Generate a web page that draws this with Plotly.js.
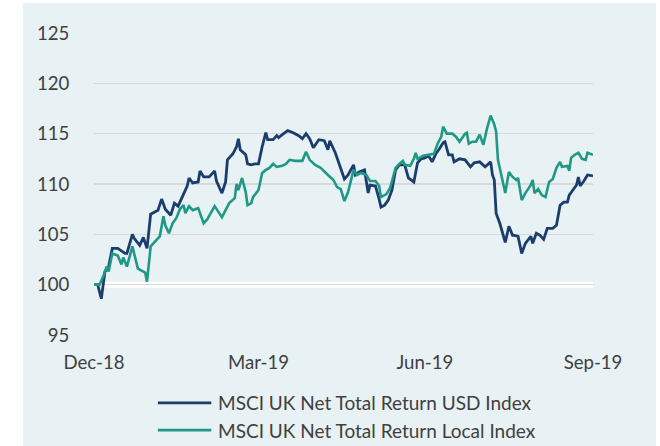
<!DOCTYPE html>
<html>
<head>
<meta charset="utf-8">
<script src="https://cdn.plot.ly/plotly-3.0.1.min.js"></script>
<style>
html,body{margin:0;padding:0;background:#ffffff;}
#chart{position:absolute;left:23px;top:3px;width:633px;height:443px;}
</style>
</head>
<body>
<div id="chart"></div>
<script>
var usdDates = ["2018-12-31","2019-01-02","2019-01-04","2019-01-06","2019-01-08","2019-01-10","2019-01-13","2019-01-17","2019-01-18","2019-01-21","2019-01-22","2019-01-25","2019-01-27","2019-01-29","2019-01-31","2019-02-04","2019-02-06","2019-02-08","2019-02-11","2019-02-13","2019-02-15","2019-02-18","2019-02-20","2019-02-21","2019-02-23","2019-02-26","2019-02-27","2019-03-01","2019-03-04","2019-03-07","2019-03-08","2019-03-11","2019-03-13","2019-03-14","2019-03-17","2019-03-19","2019-03-20","2019-03-21","2019-03-24","2019-03-25","2019-03-27","2019-03-29","2019-03-31","2019-04-02","2019-04-04","2019-04-05","2019-04-08","2019-04-10","2019-04-11","2019-04-13","2019-04-16","2019-04-19","2019-04-22","2019-04-24","2019-04-26","2019-04-28","2019-04-30","2019-05-03","2019-05-06","2019-05-08","2019-05-09","2019-05-12","2019-05-15","2019-05-17","2019-05-19","2019-05-22","2019-05-23","2019-05-25","2019-05-28","2019-05-29","2019-05-30","2019-05-31","2019-06-03","2019-06-05","2019-06-06","2019-06-08","2019-06-10","2019-06-12","2019-06-14","2019-06-16","2019-06-19","2019-06-21","2019-06-24","2019-06-26","2019-06-28","2019-06-30","2019-07-02","2019-07-04","2019-07-06","2019-07-08","2019-07-10","2019-07-11","2019-07-13","2019-07-15","2019-07-16","2019-07-19","2019-07-22","2019-07-25","2019-07-27","2019-07-30","2019-08-02","2019-08-05","2019-08-06","2019-08-07","2019-08-08","2019-08-10","2019-08-12","2019-08-13","2019-08-15","2019-08-17","2019-08-18","2019-08-20","2019-08-22","2019-08-24","2019-08-27","2019-08-28","2019-08-30","2019-09-01","2019-09-03","2019-09-05","2019-09-08","2019-09-10","2019-09-12","2019-09-14","2019-09-16","2019-09-17","2019-09-19","2019-09-21","2019-09-22","2019-09-23","2019-09-25","2019-09-27","2019-09-30"];
var usdValues = [100.0,100.0,98.6,101.3,101.8,103.6,103.6,103.1,103.1,105.0,104.6,103.9,104.7,103.6,107.0,107.4,108.5,107.5,106.9,108.1,107.8,108.9,109.8,110.6,110.1,110.2,111.3,110.7,110.7,111.3,110.3,109.1,110.2,112.4,113.0,113.7,114.5,113.4,112.9,112.0,111.9,112.0,112.0,113.7,115.1,114.4,114.4,114.8,114.6,114.9,115.3,115.1,114.8,114.5,115.0,114.5,113.6,114.4,114.3,113.4,114.3,113.1,111.6,110.5,110.9,111.9,110.9,111.2,111.4,110.4,109.1,109.9,109.8,108.5,107.7,107.9,108.4,109.4,111.4,111.9,111.9,110.6,110.2,112.1,112.5,112.6,112.8,112.2,113.0,113.5,114.1,114.2,112.9,112.9,112.2,112.5,112.4,111.7,112.1,112.2,111.7,112.2,110.9,110.4,107.1,106.1,104.8,104.2,105.8,104.9,104.9,104.8,103.1,104.1,104.8,104.1,105.1,104.9,104.5,105.6,105.6,105.9,107.9,108.2,108.2,108.9,109.4,109.9,110.7,109.8,110.3,110.9,110.8];

var localDates = ["2018-12-31","2019-01-03","2019-01-05","2019-01-07","2019-01-08","2019-01-10","2019-01-13","2019-01-15","2019-01-16","2019-01-18","2019-01-21","2019-01-24","2019-01-27","2019-01-28","2019-01-29","2019-01-31","2019-02-05","2019-02-07","2019-02-08","2019-02-10","2019-02-12","2019-02-14","2019-02-16","2019-02-18","2019-02-19","2019-02-21","2019-02-23","2019-02-26","2019-03-01","2019-03-03","2019-03-07","2019-03-09","2019-03-11","2019-03-13","2019-03-15","2019-03-18","2019-03-19","2019-03-20","2019-03-22","2019-03-24","2019-03-25","2019-03-27","2019-03-28","2019-03-31","2019-04-02","2019-04-04","2019-04-06","2019-04-08","2019-04-10","2019-04-13","2019-04-15","2019-04-17","2019-04-20","2019-04-24","2019-04-26","2019-04-28","2019-05-01","2019-05-04","2019-05-06","2019-05-08","2019-05-11","2019-05-13","2019-05-15","2019-05-17","2019-05-19","2019-05-22","2019-05-24","2019-05-26","2019-05-29","2019-05-31","2019-06-03","2019-06-05","2019-06-06","2019-06-09","2019-06-11","2019-06-14","2019-06-16","2019-06-18","2019-06-19","2019-06-22","2019-06-24","2019-06-25","2019-06-26","2019-06-29","2019-07-02","2019-07-05","2019-07-07","2019-07-09","2019-07-10","2019-07-12","2019-07-15","2019-07-17","2019-07-19","2019-07-22","2019-07-23","2019-07-24","2019-07-26","2019-07-28","2019-07-30","2019-08-01","2019-08-03","2019-08-05","2019-08-07","2019-08-08","2019-08-09","2019-08-11","2019-08-13","2019-08-15","2019-08-17","2019-08-19","2019-08-20","2019-08-22","2019-08-24","2019-08-27","2019-08-28","2019-08-29","2019-08-31","2019-09-02","2019-09-04","2019-09-06","2019-09-08","2019-09-10","2019-09-12","2019-09-13","2019-09-16","2019-09-17","2019-09-18","2019-09-20","2019-09-22","2019-09-24","2019-09-26","2019-09-27","2019-09-30"];
var localValues = [100.0,100.0,100.8,101.8,101.3,103.1,102.9,102.0,102.7,101.8,103.8,101.6,101.3,101.2,100.3,103.8,104.8,106.8,105.9,105.1,106.1,106.6,107.5,107.9,107.1,107.8,107.4,107.6,106.1,106.5,107.8,107.2,106.7,107.4,108.1,108.6,110.0,109.4,110.6,109.2,107.9,108.1,108.7,109.4,111.1,111.4,111.6,112.0,111.7,111.8,112.0,112.4,112.3,112.3,113.2,112.4,111.9,111.6,111.2,110.9,110.4,109.7,109.5,108.3,109.2,111.4,110.9,111.1,110.9,110.3,110.3,109.8,108.7,109.0,109.6,111.6,112.0,112.3,111.9,111.8,112.5,113.1,112.5,112.8,112.9,113.0,114.0,114.7,115.7,115.0,115.0,114.7,114.2,115.0,115.1,114.0,114.2,114.2,114.9,113.9,115.5,116.8,115.9,115.2,112.4,110.6,109.1,111.2,110.7,110.4,110.6,108.4,109.1,109.9,110.4,109.1,109.5,108.9,108.7,110.2,110.5,111.6,112.2,111.7,111.8,111.3,112.6,112.9,113.1,112.5,112.4,113.1,112.9];

var seriesNames = ["MSCI UK Net Total Return USD Index","MSCI UK Net Total Return Local Index"];
var seriesColors = ["#1b3d6e","#1f9985"];
var xTickVals = ["2018-12-31","2019-03-31","2019-06-30","2019-09-30"];
var xTickText = ["Dec-18","Mar-19","Jun-19","Sep-19"];
var yTickVals = [95,100,105,110,115,120,125];

var bg = "#e8f1f4";
var fontFam = "Lato, 'Open Sans', sans-serif";
var txtColor = "#404040";
var tickSize = 18.6;
var legSize = 19;

var traces = [
  {x: usdDates, y: usdValues, type: "scatter", mode: "lines", name: seriesNames[0],
   line: {color: seriesColors[0], width: 2.8}, showlegend: false, hoverinfo: "skip"},
  {x: localDates, y: localValues, type: "scatter", mode: "lines", name: seriesNames[1],
   line: {color: seriesColors[1], width: 2.6}, showlegend: false, hoverinfo: "skip"}
];

var legY = [-0.225, -0.315];
var legX0 = 0.128, legX1 = 0.235, legTx = 0.244;

var shapes = [
  {type: "line", xref: "paper", yref: "y", x0: 0, x1: 1, y0: 100, y1: 100,
   line: {color: "#ffffff", width: 6}, layer: "between"}
];
var annotations = [];
for (var i = 0; i < seriesNames.length; i++) {
  shapes.push({type: "line", xref: "paper", yref: "paper", x0: legX0, x1: legX1, y0: legY[i], y1: legY[i],
    line: {color: seriesColors[i], width: 2.8}});
  annotations.push({xref: "paper", yref: "paper", x: legTx, y: legY[i], xanchor: "left", yanchor: "middle",
    text: seriesNames[i], showarrow: false, font: {family: fontFam, size: legSize, color: txtColor}});
}

var layout = {
  width: 633, height: 443,
  margin: {l: 71, r: 63, t: 30, b: 111},
  paper_bgcolor: bg, plot_bgcolor: bg,
  font: {family: fontFam, size: tickSize, color: txtColor},
  showlegend: false,
  xaxis: {
    type: "date", range: ["2018-12-31", "2019-09-30"],
    tickvals: xTickVals, ticktext: xTickText,
    showgrid: false, zeroline: false, showline: false,
    ticks: "outside", ticklen: 11, tickcolor: "rgba(0,0,0,0)",
    tickfont: {family: fontFam, size: tickSize, color: txtColor}
  },
  yaxis: {
    range: [95, 125], tickvals: yTickVals,
    showgrid: true, gridcolor: "#d9d9d9", gridwidth: 1.6,
    zeroline: false, showline: false,
    ticks: "outside", ticklen: 20, tickcolor: "rgba(0,0,0,0)",
    tickfont: {family: fontFam, size: tickSize, color: txtColor}
  },
  shapes: shapes,
  annotations: annotations
};

Plotly.newPlot("chart", traces, layout, {displayModeBar: false, staticPlot: true});
</script>
</body>
</html>
